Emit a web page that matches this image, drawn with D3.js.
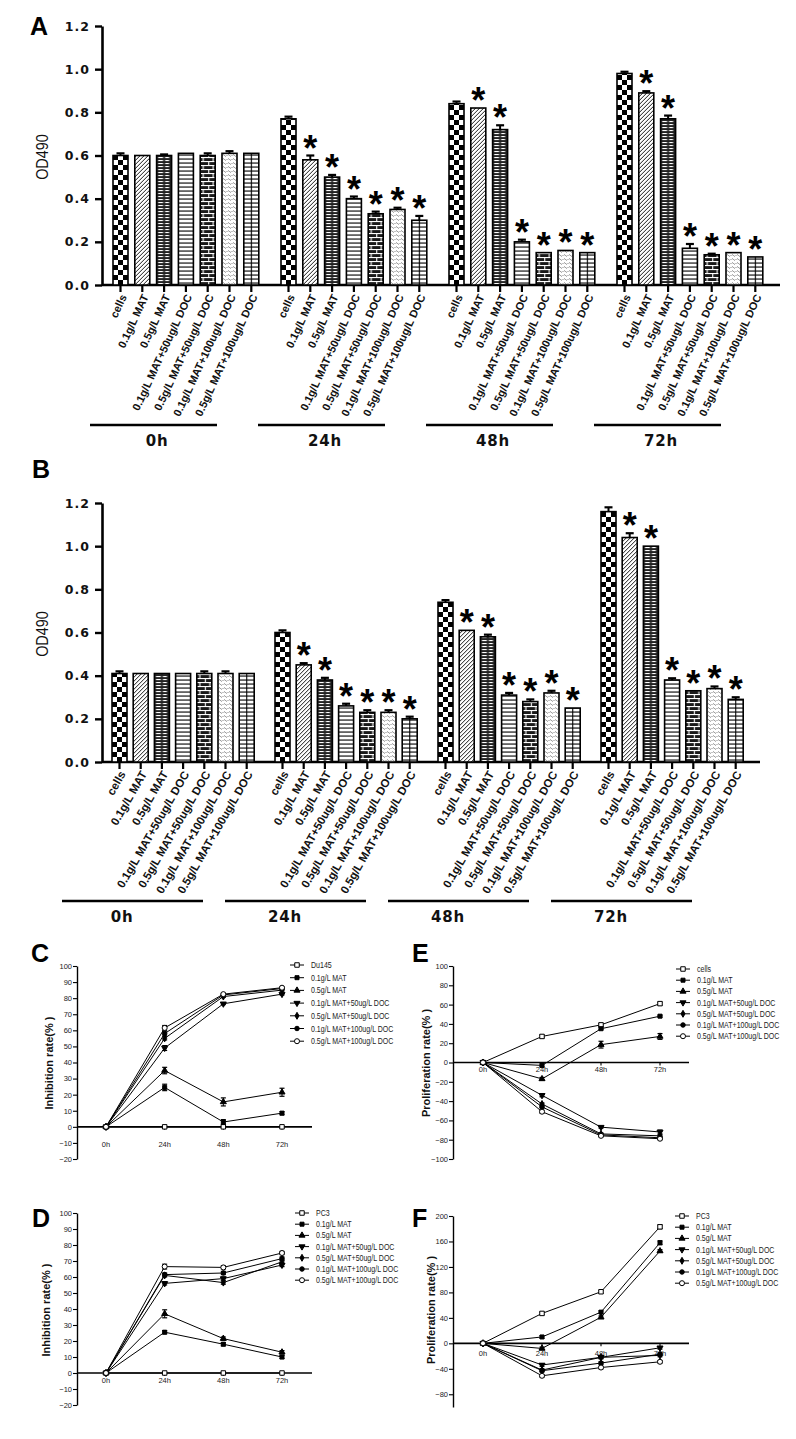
<!DOCTYPE html>
<html><head><meta charset="utf-8">
<script src="https://cdn.jsdelivr.net/npm/d3@7"></script>
<style>
body{margin:0;background:#fff;}
svg{display:block;}
</style></head><body>
<svg id="chart" width="796" height="1439"></svg>
<script>
// ---------- DATA ----------
const timepoints = ["0h","24h","48h","72h"];
const treatments = ["cells","0.1g/L MAT","0.5g/L MAT","0.1g/L MAT+50ug/L DOC","0.5g/L MAT+50ug/L DOC","0.1g/L MAT+100ug/L DOC","0.5g/L MAT+100ug/L DOC"];
const barTicks = [0,0.2,0.4,0.6,0.8,1.0,1.2];

const aValues = [
  [0.60,0.60,0.60,0.61,0.60,0.61,0.61],
  [0.77,0.58,0.50,0.40,0.33,0.35,0.30],
  [0.84,0.82,0.72,0.20,0.15,0.16,0.15],
  [0.98,0.89,0.77,0.17,0.14,0.15,0.13]];
const aErrors = [
  [0.010,0,0.005,0,0.010,0.010,0],
  [0.010,0.020,0.010,0.010,0.010,0.008,0.020],
  [0.010,0,0.020,0.010,0,0,0],
  [0.008,0.008,0.015,0.020,0.005,0,0]];
const aStars = [
  [0,0,0,0,0,0,0],
  [0,1,1,1,1,1,1],
  [0,1,1,1,1,1,1],
  [0,1,1,1,1,1,1]];

const bValues = [
  [0.41,0.41,0.41,0.41,0.41,0.41,0.41],
  [0.60,0.45,0.38,0.26,0.23,0.23,0.20],
  [0.74,0.61,0.58,0.31,0.28,0.32,0.25],
  [1.16,1.04,1.00,0.38,0.33,0.34,0.29]];
const bErrors = [
  [0.010,0,0,0,0.010,0.010,0],
  [0.010,0.008,0.010,0.010,0.010,0.010,0.010],
  [0.010,0,0.010,0.010,0.010,0.010,0],
  [0.020,0.020,0,0.008,0,0.010,0.010]];
const bStars = [
  [0,0,0,0,0,0,0],
  [0,1,1,1,1,1,1],
  [0,1,1,1,1,1,1],
  [0,1,1,1,1,1,1]];

const cSeries = ["Du145","0.1g/L MAT","0.5g/L MAT","0.1g/L MAT+50ug/L DOC","0.5g/L MAT+50ug/L DOC","0.1g/L MAT+100ug/L DOC","0.5g/L MAT+100ug/L DOC"];
const cValues = [
  [0,0,0,0],
  [0,24.5,3,8.5],
  [0,35,15.5,21.5],
  [0,49,76.5,82.5],
  [0,55,81,85],
  [0,58,82,86],
  [0,61.5,82.5,86.5]];
const cErrors = [
  [0,0,0,0],[0,2,1.5,1],[0,2,2.5,2.5],[0,1.5,0.5,0.5],[0,1,0.5,0.5],[0,1,0.5,0.5],[0,1.5,0.5,0.5]];

const eSeries = ["cells","0.1g/L MAT","0.5g/L MAT","0.1g/L MAT+50ug/L DOC","0.5g/L MAT+50ug/L DOC","0.1g/L MAT+100ug/L DOC","0.5g/L MAT+100ug/L DOC"];
const eValues = [
  [0,27,39,61],
  [0,-3,35,48],
  [0,-17,18.5,27],
  [0,-34,-67,-72],
  [0,-43,-74,-76],
  [0,-46,-75,-78],
  [0,-51,-76,-79]];
const eErrors = [
  [0,1.5,1.5,1.5],[0,1.5,1,1],[0,1.5,3.5,3],[0,1.5,1,2],[0,1,1,1],[0,1,1,1],[0,1.5,1,1]];

const dSeries = ["PC3","0.1g/L MAT","0.5g/L MAT","0.1g/L MAT+50ug/L DOC","0.5g/L MAT+50ug/L DOC","0.1g/L MAT+100ug/L DOC","0.5g/L MAT+100ug/L DOC"];
const dValues = [
  [0,0,0,0],
  [0,25.5,18,10],
  [0,37,21.5,13],
  [0,56,59,67.5],
  [0,61,56.5,69.5],
  [0,61.5,62.5,71.5],
  [0,66.5,66,75]];
const dErrors = [
  [0,0,0,0],[0,1,1,1],[0,2.5,1,1],[0,1,1,1],[0,1,1,1],[0,1,1,1],[0,1.5,1,1]];

const fSeries = ["PC3","0.1g/L MAT","0.5g/L MAT","0.1g/L MAT+50ug/L DOC","0.5g/L MAT+50ug/L DOC","0.1g/L MAT+100ug/L DOC","0.5g/L MAT+100ug/L DOC"];
const fValues = [
  [0,47,81,183],
  [0,10,49,158],
  [0,-8,41,145],
  [0,-34,-22,-7],
  [0,-42,-22,-19],
  [0,-43,-31,-17],
  [0,-51,-38,-29]];
const fErrors = [
  [0,2,2,3],[0,2,2,3],[0,2,2,2],[0,2,2,2],[0,2,2,2],[0,2,2,2],[0,2,2,2]];

// ---------- SETUP ----------
const svg = d3.select("#chart");
svg.append("rect").attr("width",796).attr("height",1439).attr("fill","#fff");
const defs = svg.append("defs");
const SANS = "'Liberation Sans', Arial, sans-serif";
const WIDE = "'DejaVu Sans', Verdana, sans-serif";

function pat(id,w,h,bg){
  const p = defs.append("pattern").attr("id",id).attr("patternUnits","userSpaceOnUse").attr("width",w).attr("height",h);
  p.append("rect").attr("width",w).attr("height",h).attr("fill",bg);
  return p;
}
let p = pat("p0",10,10,"#fff");
p.append("rect").attr("width",5).attr("height",5).attr("fill","#000");
p.append("rect").attr("x",5).attr("y",5).attr("width",5).attr("height",5).attr("fill","#000");
p = pat("p1",4,4,"#fff");
p.append("path").attr("d","M-1,1L1,-1M0,4L4,0M3,5L5,3").attr("stroke","#000").attr("stroke-width",0.9);
p = pat("p2",15,3,"#222");
p.append("rect").attr("x",1.5).attr("y",1).attr("width",5).attr("height",1.1).attr("fill","#fff");
p.append("rect").attr("x",8.5).attr("y",1).attr("width",4).attr("height",1.1).attr("fill","#fff");
p = pat("p3",4,4,"#fff");
p.append("rect").attr("y",1.5).attr("width",4).attr("height",1.1).attr("fill","#000");
p = pat("p4",10,8,"#1a1a1a");
p.append("rect").attr("y",0).attr("width",10).attr("height",1.1).attr("fill","#fff");
p.append("rect").attr("y",4).attr("width",10).attr("height",1.1).attr("fill","#fff");
p.append("rect").attr("x",2.5).attr("y",0).attr("width",1.1).attr("height",4).attr("fill","#fff");
p.append("rect").attr("x",8).attr("y",4).attr("width",1.1).attr("height",4).attr("fill","#fff");
p = pat("p5",5,4,"#fff");
p.append("path").attr("d","M0.5,2.5q1,-1.5 2,0q1,1.5 2,0").attr("fill","none").attr("stroke","#555").attr("stroke-width",0.7);
p = pat("p6",15,4,"#fff");
p.append("rect").attr("y",1.5).attr("width",15).attr("height",1.1).attr("fill","#000");
p.append("rect").attr("x",7).attr("width",1.1).attr("height",4).attr("fill","#000");

// ---------- BAR PANELS ----------
function barPanel(cfg){
  const g = svg.append("g");
  const y = d3.scaleLinear().domain([0,1.2]).range([cfg.y0, cfg.y12]);
  const groupW = 6*cfg.barStep + cfg.barW;
  const gx = d3.scaleBand().domain(timepoints)
    .range([cfg.first, cfg.first + 3*cfg.groupStep + groupW])
    .paddingInner(1 - groupW/cfg.groupStep).paddingOuter(0);
  const ix = d3.scaleBand().domain(treatments).range([0, gx.bandwidth()])
    .paddingInner(1 - cfg.barW/cfg.barStep).paddingOuter(0);

  const ya = g.append("g").attr("transform",`translate(${cfg.axisX},0)`)
    .call(d3.axisLeft(y).tickValues(barTicks).tickFormat(d3.format(".1f")).tickSize(7).tickSizeOuter(0).tickPadding(5));
  ya.select(".domain").attr("stroke-width",2.6);
  ya.selectAll(".tick line").attr("stroke-width",2.4);
  ya.selectAll("text").attr("font-family",WIDE).attr("font-weight","bold").attr("font-size",12.5).attr("letter-spacing",1).attr("fill","#111");

  g.append("line").attr("x1",cfg.axisX).attr("x2",cfg.xEnd).attr("y1",y(0)).attr("y2",y(0))
    .attr("stroke","#000").attr("stroke-width",2.6);

  timepoints.forEach((t,gi)=>{
    const gg = g.append("g");
    treatments.forEach((tr,i)=>{
      const x0 = gx(t)+ix(tr), cx = x0 + ix.bandwidth()/2;
      const v = cfg.values[gi][i], e = cfg.errors[gi][i];
      const b = gg.append("g").attr("transform",`translate(${x0},${y(0)})`);
      b.append("rect").attr("x",0).attr("y",y(v)-y(0)).attr("width",ix.bandwidth()).attr("height",y(0)-y(v))
        .attr("fill",`url(#p${i})`).attr("stroke","#000").attr("stroke-width",1.6);
      if(e>0){
        gg.append("line").attr("x1",cx).attr("x2",cx).attr("y1",y(v)).attr("y2",y(v+e)).attr("stroke","#000").attr("stroke-width",2);
        gg.append("line").attr("x1",cx-4).attr("x2",cx+4).attr("y1",y(v+e)).attr("y2",y(v+e)).attr("stroke","#000").attr("stroke-width",2.2);
      }
      if(cfg.stars[gi][i]){
        gg.append("text").attr("x",cx).attr("y",y(v+e)+5).attr("text-anchor","middle")
          .attr("font-family",SANS).attr("font-weight","bold").attr("font-size",36).text("*");
      }
      gg.append("line").attr("x1",cx).attr("x2",cx).attr("y1",y(0)).attr("y2",y(0)+7).attr("stroke","#000").attr("stroke-width",2.2);
      gg.append("text").attr("transform",`translate(${cx+3},${y(0)+10}) rotate(${cfg.angle})`)
        .attr("text-anchor","end").attr("dy","0.35em")
        .attr("font-family",SANS).attr("font-weight","bold").attr("font-size",cfg.labelSize).attr("fill","#111").text(tr);
    });
    g.append("line").attr("x1",gx(t)+cfg.lineL).attr("x2",gx(t)+cfg.lineR).attr("y1",cfg.lineY).attr("y2",cfg.lineY)
      .attr("stroke","#000").attr("stroke-width",2.6);
    g.append("text").attr("x",gx(t)+cfg.glabelDx).attr("y",cfg.lineY+21).attr("text-anchor","middle")
      .attr("font-family",WIDE).attr("font-weight","bold").attr("font-size",15).attr("letter-spacing",0.8).attr("fill","#111").text(t);
  });

  g.append("text").attr("transform",`translate(${cfg.ylabX},${cfg.ylabY}) rotate(-90) scale(0.85,1)`).attr("text-anchor","middle")
    .attr("font-family",SANS).attr("font-size",17).attr("fill","#111").text("OD490");
  g.append("text").attr("x",cfg.letterX).attr("y",cfg.letterY).attr("font-family",SANS).attr("font-weight","bold")
    .attr("font-size",25).text(cfg.letter);
}

barPanel({values:aValues, errors:aErrors, stars:aStars, y0:285, y12:26, axisX:102, xEnd:780,
  first:113, groupStep:168, barStep:21.8, barW:15, angle:-65, labelSize:11,
  lineY:425, lineL:-23, lineR:104, glabelDx:44, ylabX:48, ylabY:157, letter:"A", letterX:30, letterY:35});
barPanel({values:bValues, errors:bErrors, stars:bStars, y0:762, y12:503, axisX:102, xEnd:760,
  first:112, groupStep:163, barStep:21.2, barW:15, angle:-60, labelSize:11.5,
  lineY:901, lineL:-50, lineR:91, glabelDx:10, ylabX:48, ylabY:634, letter:"B", letterX:32, letterY:478});

// ---------- LINE PANELS ----------
const markerTypes = [
  {t:d3.symbolSquare, s:20, fill:"#fff", rot:0},
  {t:d3.symbolSquare, s:16, fill:"#000", rot:0},
  {t:d3.symbolTriangle, s:16, fill:"#000", rot:0},
  {t:d3.symbolTriangle, s:16, fill:"#000", rot:180},
  {t:d3.symbolDiamond, s:14, fill:"#000", rot:0},
  {t:d3.symbolCircle, s:16, fill:"#000", rot:0},
  {t:d3.symbolCircle, s:20, fill:"#fff", rot:0}];

function drawMarker(g,k,x,y){
  const m = markerTypes[k];
  g.append("path").attr("d",d3.symbol().type(m.t).size(m.s)())
    .attr("transform",`translate(${x},${y}) rotate(${m.rot})`)
    .attr("fill",m.fill).attr("stroke","#000").attr("stroke-width",1);
}

function linePanel(cfg){
  const g = svg.append("g");
  const x = d3.scalePoint().domain(timepoints).range(cfg.xr);
  const y = d3.scaleLinear().domain(cfg.yd).range(cfg.yr);
  const ya = g.append("g").attr("transform",`translate(${cfg.axisX},0)`)
    .call(d3.axisLeft(y).tickValues(cfg.yticks).tickSize(4).tickSizeOuter(0).tickPadding(1));
  ya.select(".domain").attr("stroke-width",1.4);
  ya.selectAll(".tick line").attr("stroke-width",1.1);
  ya.selectAll("text").attr("font-family",SANS).attr("font-size",7.5).attr("fill","#222");
  g.append("line").attr("x1",cfg.axisX).attr("x2",cfg.xEnd).attr("y1",y(0)).attr("y2",y(0)).attr("stroke","#000").attr("stroke-width",1.6);
  timepoints.forEach(t=>{
    g.append("line").attr("x1",x(t)).attr("x2",x(t)).attr("y1",y(0)).attr("y2",y(0)+3).attr("stroke","#000").attr("stroke-width",1.1);
    g.append("text").attr("x",x(t)).attr("y",y(0)+cfg.xlabDy).attr("text-anchor","middle")
      .attr("font-family",SANS).attr("font-size",7.5).attr("fill","#222").text(t);
  });
  const line = d3.line().x((d,i)=>x(timepoints[i])).y(d=>y(d));
  cfg.values.forEach((vals,k)=>{
    g.append("path").attr("d",line(vals)).attr("fill","none").attr("stroke","#000").attr("stroke-width",1);
  });
  cfg.values.forEach((vals,k)=>{
    vals.forEach((v,i)=>{
      const e = cfg.errors[k][i];
      const cx = x(timepoints[i]);
      if(e>0){
        g.append("line").attr("x1",cx).attr("x2",cx).attr("y1",y(v-e)).attr("y2",y(v+e)).attr("stroke","#000").attr("stroke-width",1);
        [v-e,v+e].forEach(w=>g.append("line").attr("x1",cx-2.5).attr("x2",cx+2.5).attr("y1",y(w)).attr("y2",y(w)).attr("stroke","#000").attr("stroke-width",1.2));
      }
      drawMarker(g,k,cx,y(v));
    });
  });
  cfg.series.forEach((s,k)=>{
    const ly = cfg.legY + k*cfg.legDy;
    g.append("line").attr("x1",cfg.legX-7).attr("x2",cfg.legX+7).attr("y1",ly).attr("y2",ly).attr("stroke","#000").attr("stroke-width",1);
    drawMarker(g,k,cfg.legX,ly);
    g.append("text").attr("transform",`translate(${cfg.legX+14},${ly}) scale(0.8,1)`).attr("dy","0.35em")
      .attr("font-family",SANS).attr("font-size",8.8).attr("fill","#222").text(s);
  });
  g.append("text").attr("transform",`translate(${cfg.ylabX},${cfg.ylabY}) rotate(-90)`).attr("text-anchor","middle")
    .attr("font-family",SANS).attr("font-weight","bold").attr("font-size",11).attr("fill","#111").text(cfg.ylabel);
  g.append("text").attr("x",cfg.letterX).attr("y",cfg.letterY).attr("font-family",SANS).attr("font-weight","bold")
    .attr("font-size",25).text(cfg.letter);
}

const ticksI = [-20,-10,0,10,20,30,40,50,60,70,80,90,100];
linePanel({series:cSeries, values:cValues, errors:cErrors, xr:[106,282], yd:[-20,100], yr:[1159,966],
  yticks:ticksI, axisX:77, xEnd:312, xlabDy:20, legX:297, legY:965, legDy:12.7,
  ylabel:"Inhibition rate(% )", ylabX:53, ylabY:1063, letter:"C", letterX:31, letterY:962});
linePanel({series:eSeries, values:eValues, errors:eErrors, xr:[483,660], yd:[-100,100], yr:[1159,966],
  yticks:[-100,-80,-60,-40,-20,0,20,40,60,80,100], axisX:453, xEnd:689, xlabDy:9, legX:683, legY:969, legDy:11.2,
  ylabel:"Proliferation rate(% )", ylabX:430, ylabY:1063, letter:"E", letterX:412, letterY:962});
linePanel({series:dSeries, values:dValues, errors:dErrors, xr:[106,282], yd:[-20,100], yr:[1405,1213],
  yticks:ticksI, axisX:77, xEnd:312, xlabDy:10, legX:302, legY:1213, legDy:11.2,
  ylabel:"Inhibition rate(% )", ylabX:50, ylabY:1310, letter:"D", letterX:32, letterY:1227});
linePanel({series:fSeries, values:fValues, errors:fErrors, xr:[483,660], yd:[-100,200], yr:[1407,1216],
  yticks:[-80,-40,0,40,80,120,160,200], axisX:453, xEnd:689, xlabDy:13, legX:682, legY:1216, legDy:11.2,
  ylabel:"Proliferation rate(% )", ylabX:435, ylabY:1310, letter:"F", letterX:412, letterY:1227});
</script>
</body></html>
